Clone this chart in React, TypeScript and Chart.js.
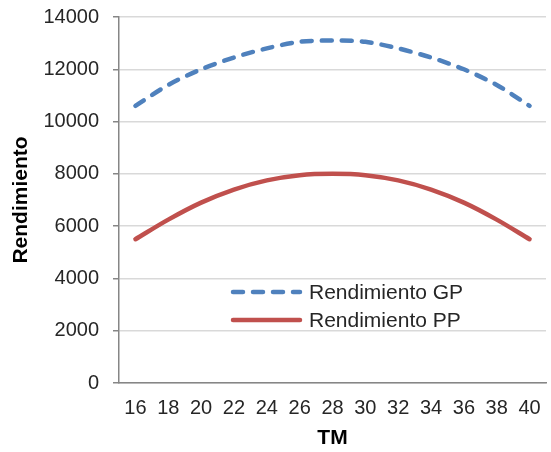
import React, { useEffect, useRef } from "react";
import { Chart, registerables } from "chart.js";

Chart.register(...registerables);

const categories = ["16", "18", "20", "22", "24", "26", "28", "30", "32", "34", "36", "38", "40"];
const rendimientoGP = [10600, 11400, 12000, 12450, 12800, 13050, 13100, 13050, 12800, 12450, 12000, 11400, 10600];
const rendimientoPP = [5500, 6250, 6900, 7400, 7750, 7950, 8000, 7950, 7750, 7400, 6900, 6250, 5500];
const seriesNames = ["Rendimiento GP", "Rendimiento PP"];
const yTitle = "Rendimiento";
const xTitle = "TM";

const BLUE = "#4F81BD";
const RED = "#C0504D";
const FONT = "'Liberation Sans', Arial, sans-serif";

const legendPlugin = {
  id: "insideLegend",
  afterDraw(chart: any) {
    const { ctx, chartArea } = chart;
    const x0 = chartArea.left + 112;
    const y0 = chartArea.top + 275;
    const rowH = 28;
    ctx.save();
    chart.data.datasets.forEach((ds: any, i: number) => {
      const y = y0 + i * rowH;
      ctx.beginPath();
      ctx.strokeStyle = ds.borderColor;
      ctx.lineWidth = ds.borderWidth;
      ctx.lineCap = ds.borderCapStyle || "butt";
      ctx.setLineDash(ds.borderDash || []);
      ctx.moveTo(x0 + 2, y);
      ctx.lineTo(x0 + 69, y);
      ctx.stroke();
      ctx.setLineDash([]);
      ctx.fillStyle = "#262626";
      ctx.font = `21px ${FONT}`;
      ctx.textAlign = "left";
      ctx.textBaseline = "middle";
      ctx.fillText(ds.label, x0 + 78, y + 1);
    });
    ctx.restore();
  },
};

export default function App() {
  const ref = useRef<HTMLCanvasElement>(null);
  useEffect(() => {
    if (!ref.current) return;
    const chart = new Chart(ref.current, {
      type: "line",
      data: {
        labels: categories,
        datasets: [
          {
            label: seriesNames[0],
            data: rendimientoGP,
            borderColor: BLUE,
            backgroundColor: BLUE,
            borderWidth: 4.5,
            borderDash: [10, 10],
            borderCapStyle: "round",
            pointRadius: 0,
            tension: 0.3,
            fill: false,
          },
          {
            label: seriesNames[1],
            data: rendimientoPP,
            borderColor: RED,
            backgroundColor: RED,
            borderWidth: 4.5,
            borderCapStyle: "round",
            pointRadius: 0,
            tension: 0.3,
            fill: false,
          },
        ],
      },
      options: {
        animation: false,
        responsive: true,
        maintainAspectRatio: false,
        layout: { padding: { left: 3, right: 5, top: 0, bottom: 0 } },
        plugins: {
          legend: { display: false },
          tooltip: { enabled: false },
        },
        scales: {
          x: {
            offset: true,
            grid: { display: false, drawTicks: false },
            border: { display: true, color: "#868686", width: 1.5 },
            ticks: { color: "#262626", font: { family: FONT, size: 20 }, padding: 13, maxRotation: 0, autoSkip: false },
            title: { display: true, text: xTitle, color: "#000", font: { family: FONT, size: 21, weight: "bold" }, padding: { top: 5, bottom: 1 } },
            afterFit: (scale: any) => {
              scale.height = 69;
              scale.paddingLeft = 0;
              scale.paddingRight = 0;
            },
          },
          y: {
            min: 0,
            max: 14000,
            ticks: {
              stepSize: 2000,
              color: "#262626",
              font: { family: FONT, size: 20 },
              padding: 14,
              callback: (v: any) => String(v),
            },
            grid: { color: "#d9d9d9", lineWidth: 1.5, tickLength: 6, tickColor: "#868686" },
            border: { display: true, color: "#868686", width: 1.5 },
            title: { display: true, text: yTitle, color: "#000", font: { family: FONT, size: 21, weight: "bold" }, padding: { top: 6, bottom: 9 } },
            afterFit: (scale: any) => {
              scale.width = 116;
              scale.paddingTop = 17;
              scale.paddingBottom = 0;
            },
          },
        },
      },
      plugins: [legendPlugin],
    });
    return () => chart.destroy();
  }, []);
  return (
    <div style={{ position: "absolute", left: 0, top: 0, width: 551, height: 452, background: "#fff" }}>
      <canvas ref={ref} />
    </div>
  );
}
